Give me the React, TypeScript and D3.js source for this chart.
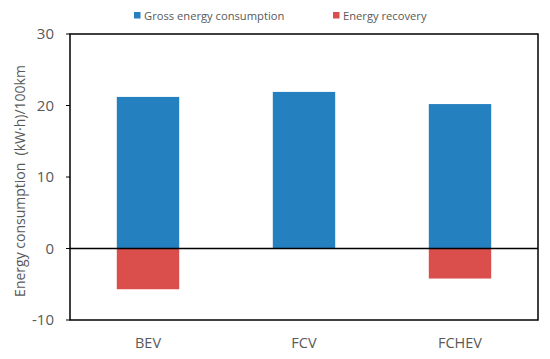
import React from "react";
import * as d3 from "d3";

const categories = ["BEV", "FCV", "FCHEV"];
const grossConsumption = [21.2, 21.9, 20.2];
const energyRecovery = [-5.7, 0, -4.2];
const yTicks = [-10, 0, 10, 20, 30];
const seriesNames = ["Gross energy consumption", "Energy recovery"];
const seriesColors = ["#2580bf", "#da4f4c"];

const width = 550;
const height = 359;
const margin = { top: 34, right: 12, bottom: 39, left: 70 };
const font = "'Open Sans', 'Liberation Sans', sans-serif";
const textColor = "#595959";

export default function App() {
  const x = d3
    .scaleBand<string>()
    .domain(categories)
    .range([margin.left, width - margin.right])
    .paddingInner(0.6)
    .paddingOuter(0.3);
  const y = d3
    .scaleLinear()
    .domain([-10, 30])
    .range([height - margin.bottom, margin.top]);

  const x0 = margin.left;
  const x1 = width - margin.right;
  const y0 = margin.top;
  const y1 = height - margin.bottom;

  return (
    <svg
      width={width}
      height={height}
      style={{ position: "absolute", left: 0, top: 0, background: "#fff" }}
      fontFamily={font}
    >
      {/* bars */}
      {categories.map((c, i) => (
        <g key={c}>
          <rect
            x={x(c)}
            width={x.bandwidth()}
            y={y(grossConsumption[i])}
            height={y(0) - y(grossConsumption[i])}
            fill={seriesColors[0]}
          />
          {energyRecovery[i] < 0 && (
            <rect
              x={x(c)}
              width={x.bandwidth()}
              y={y(0)}
              height={y(energyRecovery[i]) - y(0)}
              fill={seriesColors[1]}
            />
          )}
        </g>
      ))}

      {/* zero line and frame */}
      <line x1={x0} x2={x1} y1={y(0)} y2={y(0)} stroke="#000" strokeWidth={1.3} />
      <rect x={x0} y={y0} width={x1 - x0} height={y1 - y0} fill="none" stroke="#000" strokeWidth={1.5} />

      {/* y ticks */}
      {yTicks.map((t) => (
        <g key={t}>
          <line x1={x0 - 4} x2={x0} y1={y(t)} y2={y(t)} stroke="#000" strokeWidth={1} />
          <text
            x={x0 - 16}
            y={y(t)}
            dy="0.35em"
            textAnchor="end"
            fontSize={15}
            fill={textColor}
          >
            {t}
          </text>
        </g>
      ))}

      {/* category labels */}
      {categories.map((c) => (
        <text
          key={c}
          x={(x(c) ?? 0) + x.bandwidth() / 2}
          y={348}
          textAnchor="middle"
          fontSize={14.5}
          fill={textColor}
        >
          {c}
        </text>
      ))}

      {/* y axis title */}
      <text
        transform={`translate(25,181) rotate(-90)`}
        textAnchor="middle"
        fontSize={14}
        fill={textColor}
        style={{ whiteSpace: "pre" }}
      >
        {"Energy consumption  (kW·h)/100km"}
      </text>

      {/* legend */}
      {seriesNames.map((n, i) => {
        const lx = i === 0 ? 134 : 333;
        return (
          <g key={n}>
            <rect x={lx} y={12} width={6.5} height={6.5} fill={seriesColors[i]} />
            <text x={lx + 10} y={19.5} fontSize={11.2} fill={textColor}>
              {n}
            </text>
          </g>
        );
      })}
    </svg>
  );
}
